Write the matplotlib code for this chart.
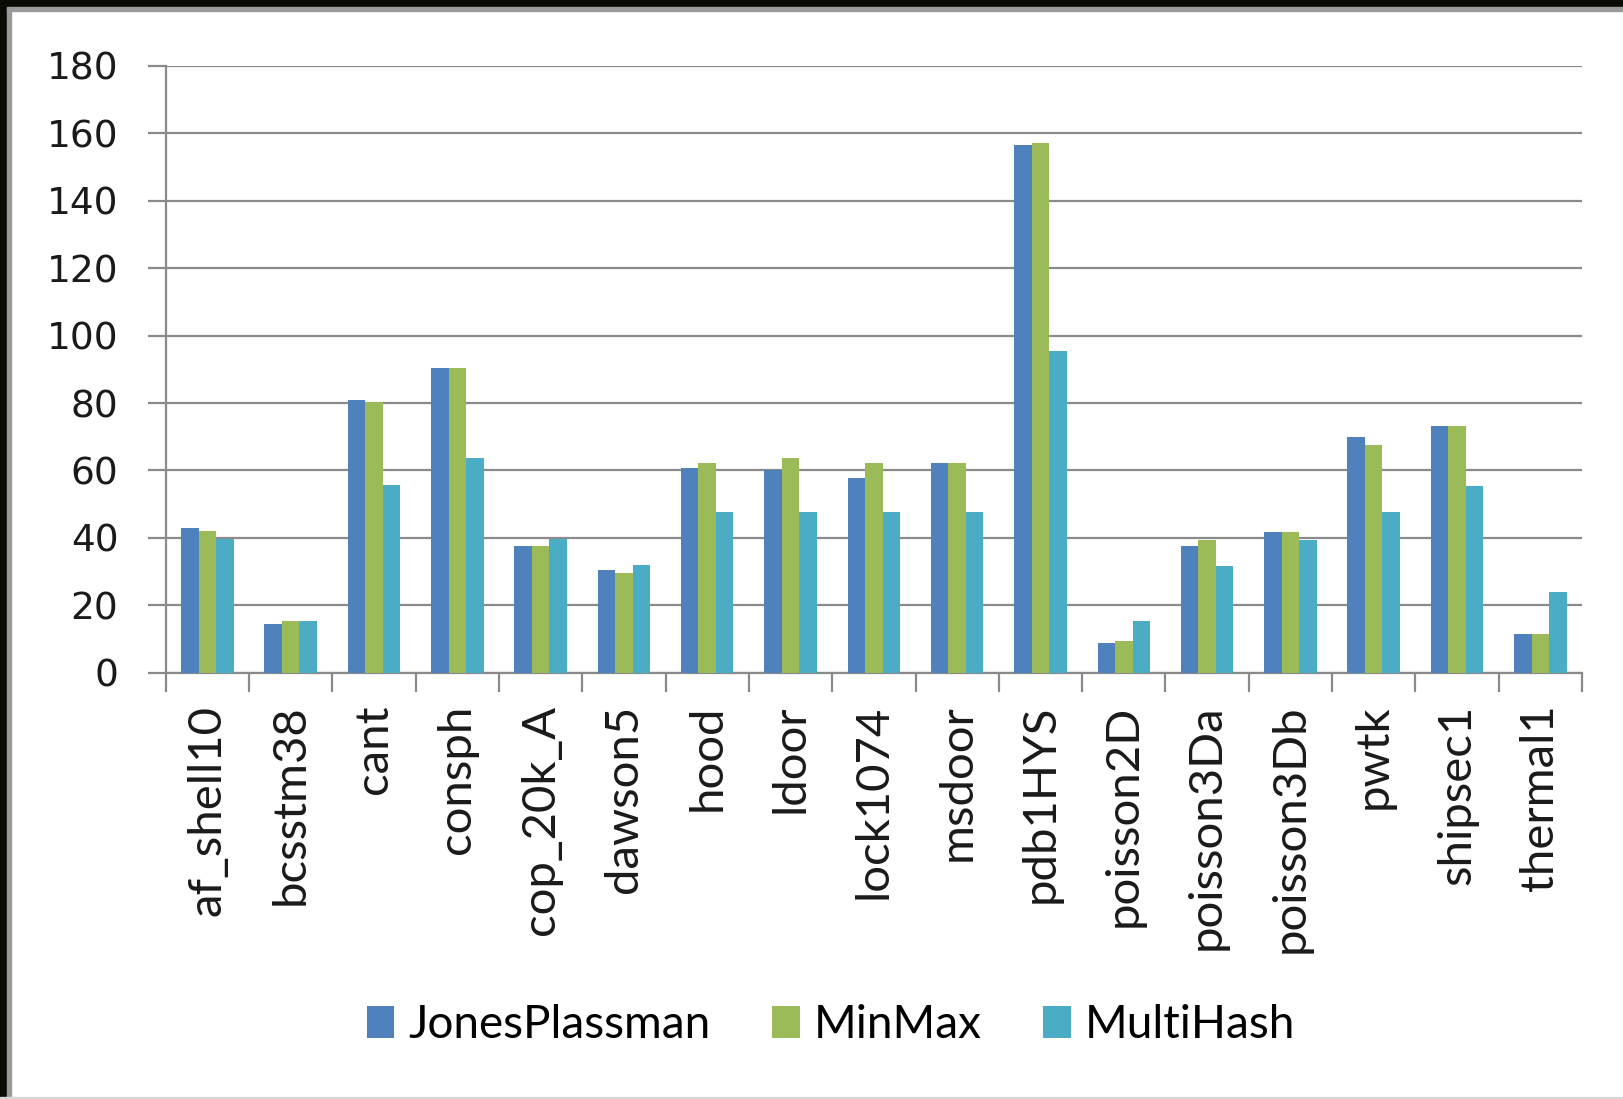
import matplotlib
matplotlib.use("Agg")
import matplotlib.pyplot as plt
import numpy as np
from matplotlib.patches import Rectangle

matrices = ["af_shell10", "bcsstm38", "cant", "consph", "cop_20k_A", "dawson5",
            "hood", "ldoor", "lock1074", "msdoor", "pdb1HYS", "poisson2D",
            "poisson3Da", "poisson3Db", "pwtk", "shipsec1", "thermal1"]
jones_plassman = [43, 14.5, 81, 90.3, 37.7, 30.4, 60.7, 60, 57.8, 62.2,
                  156.6, 8.8, 37.5, 41.8, 69.8, 73.3, 11.6]
min_max = [42, 15.3, 80.2, 90.3, 37.7, 29.7, 62.2, 63.6, 62.2, 62.2,
           157.3, 9.5, 39.5, 41.8, 67.6, 73.3, 11.6]
multi_hash = [39.7, 15.3, 55.6, 63.6, 39.7, 31.9, 47.7, 47.7, 47.7, 47.7,
              95.5, 15.3, 31.7, 39.5, 47.6, 55.5, 23.9]
series_names = ["JonesPlassman", "MinMax", "MultiHash"]
colors = ["#4F81BD", "#9BBB59", "#4BACC6"]
yticks = list(range(0, 181, 20))

W, H = 1623, 1099
fig = plt.figure(figsize=(W / 100, H / 100), dpi=100)
ax = fig.add_axes([165.7 / W, 1 - 672.7 / H, (1582 - 165.7) / W, (672.7 - 66) / H])

x = np.arange(len(matrices))
bw = 0.21
for i, (vals, name, c) in enumerate(zip([jones_plassman, min_max, multi_hash], series_names, colors)):
    ax.bar(x + (i - 1) * bw, vals, width=bw, color=c, label=name, zorder=3)

grid_c = "#8a8a8a"
ax.set_xlim(-0.5, len(matrices) - 0.5)
ax.set_ylim(0, 180)
ax.set_yticks(yticks)
ax.set_yticklabels([str(v) for v in yticks], fontsize=27, family="DejaVu Sans", color="#1a1a1a")
ax.yaxis.grid(True, color=grid_c, linewidth=1.6, zorder=0)
ax.set_axisbelow(True)

# category labels at centers, tick marks at boundaries
ax.set_xticks(x)
ax.set_xticklabels(matrices, rotation=90, fontsize=34, family="Lato", color="#1a1a1a")
ax.tick_params(axis="x", which="major", length=0, pad=23)
ax.set_xticks(np.arange(len(matrices) + 1) - 0.5, minor=True)
ax.tick_params(axis="x", which="minor", length=14, width=1.6, color=grid_c)
ax.tick_params(axis="y", length=13, width=1.6, color=grid_c, pad=21)

for s in ["top", "right"]:
    ax.spines[s].set_visible(False)
for s in ["left", "bottom"]:
    ax.spines[s].set_color(grid_c)
    ax.spines[s].set_linewidth(1.6)

fig.legend(loc="center", bbox_to_anchor=(831 / W, 1 - 1025 / H), ncol=3, frameon=False,
           prop={"family": "Lato", "size": 33}, handlelength=0.6, handleheight=0.7,
           handletextpad=0.3, columnspacing=1.35)

# dark screenshot frame
fig.patches.append(Rectangle((0, 0), 7 / W, 1, transform=fig.transFigure, color="#0b0b06", zorder=10))
fig.patches.append(Rectangle((7 / W, 0), 4 / W, 1 - 7 / H, transform=fig.transFigure, color="#9a9a9a", zorder=10))
fig.patches.append(Rectangle((0, 1 - 7 / H), 1, 7 / H, transform=fig.transFigure, color="#0b0b06", zorder=10))
fig.patches.append(Rectangle((7 / W, 1 - 11 / H), 1, 4 / H, transform=fig.transFigure, color="#9a9a9a", zorder=10))
fig.patches.append(Rectangle((0, 0), 1, 2 / H, transform=fig.transFigure, color="#d8d8d8", zorder=10))

fig.savefig("out.png", dpi=100)
